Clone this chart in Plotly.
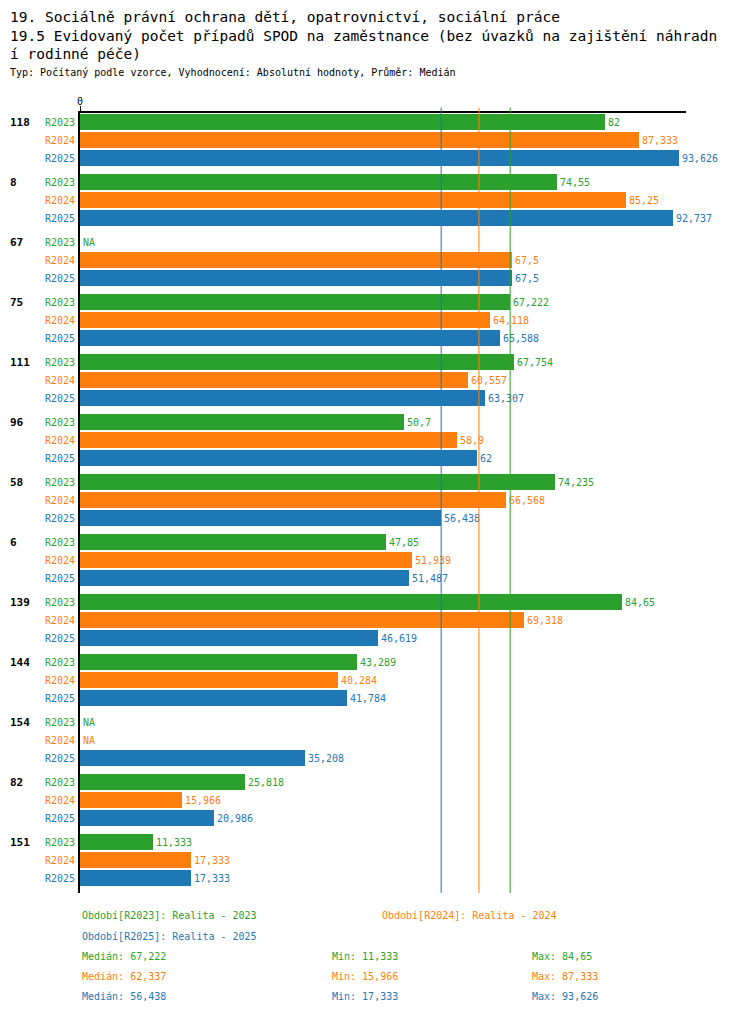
import plotly.graph_objects as go
import statistics

groups = ["118", "8", "67", "75", "111", "96", "58", "6", "139", "144", "154", "82", "151"]
series = ["R2023", "R2024", "R2025"]
series_names = ["Realita - 2023", "Realita - 2024", "Realita - 2025"]
colors = ["#2ca02c", "#ff7f0e", "#1f77b4"]

r2023 = [82, 74.55, None, 67.222, 67.754, 50.7, 74.235, 47.85, 84.65, 43.289, None, 25.818, 11.333]
r2024 = [87.333, 85.25, 67.5, 64.118, 60.557, 58.9, 66.568, 51.939, 69.318, 40.284, None, 15.966, 17.333]
r2025 = [93.626, 92.737, 67.5, 65.588, 63.307, 62, 56.438, 51.487, 46.619, 41.784, 35.208, 20.986, 17.333]
values = [r2023, r2024, r2025]

FONT = "DejaVu Sans Mono"
SLOT = 10 / 3  # rows per group incl. gap

# page has an 8px body margin, so figure is a bit smaller than the window
W, H = 742, 1006
L, R, T, B = 72, 64, 105, 121
PW, PH = W - L - R, H - T - B


def px(x, y):
    # figure pixel -> paper coords
    return (x - L) / PW, 1 - (y - T) / PH


def fmt(v):
    if v is None:
        return "NA"
    s = f"{v:.3f}".rstrip("0").rstrip(".")
    return s.replace(".", ",")


fig = go.Figure()
tickvals, ticktext = [], []
for s, (name, vals, col) in enumerate(zip(series, values, colors)):
    ys = [g * SLOT + s for g in range(len(groups))]
    tickvals += ys
    ticktext += [f'<span style="color:{col}">{name}</span>'] * len(groups)
    fig.add_trace(go.Bar(
        x=[0 if v is None else v for v in vals],
        y=ys,
        orientation="h",
        width=16 / 18,
        marker=dict(color=col, line=dict(width=0)),
        text=[fmt(v) for v in vals],
        textposition="outside",
        textfont=dict(family=FONT, size=10, color=col),
        cliponaxis=False,
        showlegend=False,
    ))

# median lines
for vals, col in zip(values, colors):
    med = statistics.median([v for v in vals if v is not None])
    fig.add_shape(type="line", xref="x", yref="paper", x0=med, x1=med, y0=0, y1=1.007,
                  line=dict(color=col, width=1))

# group labels
for g, name in enumerate(groups):
    fig.add_annotation(x=px(0, 0)[0], xref="paper", y=g * SLOT, yref="y", text=f"<b>{name}</b>",
                       showarrow=False, xanchor="left", font=dict(family=FONT, size=11, color="black"))


def label(text, x, y, size, col):
    ax, ay = px(x, y)
    fig.add_annotation(x=ax, y=ay, xref="paper", yref="paper", text=text, showarrow=False,
                       xanchor="left", yanchor="middle",
                       font=dict(family=FONT, size=size, color=col))


# titles
label("19. Sociálně právní ochrana dětí, opatrovnictví, sociální práce", 0, 9, 14.5, "black")
label("19.5 Evidovaný počet případů SPOD na zaměstnance (bez úvazků na zajištění náhradn",
      0, 28, 14.5, "black")
label("í rodinné péče)", 0, 46, 14.5, "black")
label("Typ: Počítaný podle vzorce, Vyhodnocení: Absolutní hodnoty, Průměr: Medián", 0, 65, 10, "black")

# legend / stats
label(f"Období[{series[0]}]: {series_names[0]}", 72, 908, 10, colors[0])
label(f"Období[{series[1]}]: {series_names[1]}", 372, 908, 10, colors[1])
label(f"Období[{series[2]}]: {series_names[2]}", 72, 928, 10, colors[2])
for i, (vals, col) in enumerate(zip(values, colors)):
    clean = [v for v in vals if v is not None]
    y = 948 + 20 * i
    label(f"Medián: {fmt(statistics.median(clean))}", 72, y, 10, col)
    label(f"Min: {fmt(min(clean))}", 322, y, 10, col)
    label(f"Max: {fmt(max(clean))}", 522, y, 10, col)

fig.update_layout(
    width=W, height=H,
    margin=dict(l=L, r=R, t=T, b=B, autoexpand=False),
    plot_bgcolor="white", paper_bgcolor="white",
    font=dict(family=FONT, size=10, color="black"),
    bargap=0,
    xaxis=dict(range=[0, 94.7], side="top", tickvals=[0], ticktext=["0"], ticks="outside",
               ticklen=5, tickcolor="black", showline=True, linecolor="black", linewidth=1.5,
               showgrid=False, zeroline=False, fixedrange=True, ticklabelstandoff=-3),
    yaxis=dict(range=[len(groups) * SLOT - 0.5, -0.5], tickvals=tickvals, ticktext=ticktext,
               ticks="", showline=True, linecolor="black", linewidth=2, showgrid=False,
               zeroline=False, ticklabelstandoff=1),
)

fig.write_html("out.html")
